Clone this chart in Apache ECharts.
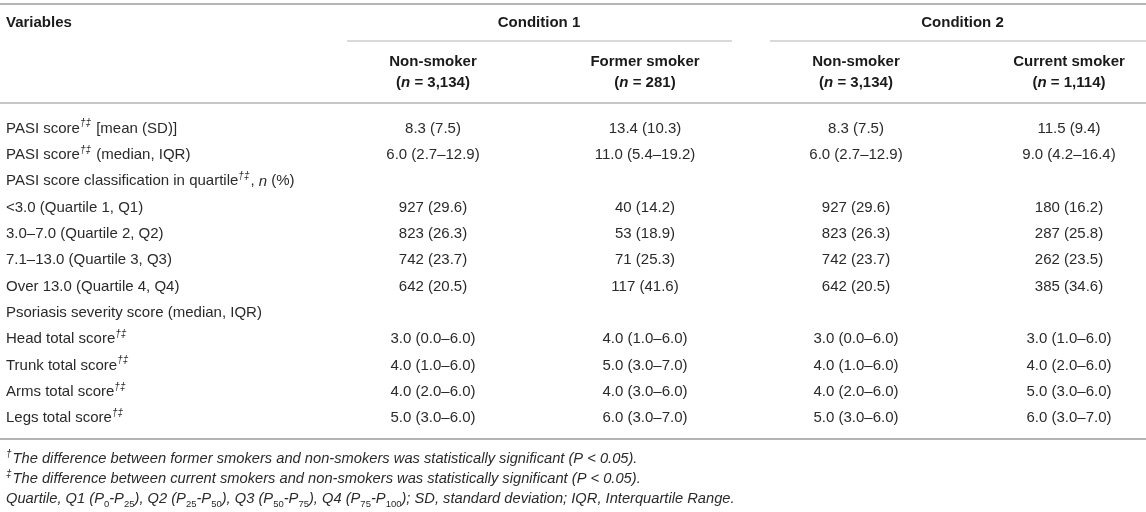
<!DOCTYPE html>
<html>
<head>
<meta charset="utf-8">
<title>PASI score by smoking status</title>
<script src="https://cdn.jsdelivr.net/npm/echarts@6/dist/echarts.min.js"></script>
<style>
    html, body { margin: 0; padding: 0; background: #fff; }
    #main { width: 1146px; height: 512px; }
</style>
</head>
<body>
<div id="main"></div>
<script>
// ---- table content ----
const rowLabels = [
    'PASI score',
    'PASI score',
    'PASI score classification in quartile',
    '<3.0 (Quartile 1, Q1)',
    '3.0–7.0 (Quartile 2, Q2)',
    '7.1–13.0 (Quartile 3, Q3)',
    'Over 13.0 (Quartile 4, Q4)',
    'Psoriasis severity score (median, IQR)',
    'Head total score',
    'Trunk total score',
    'Arms total score',
    'Legs total score'
];
const rowMarks = ['†‡', '†‡', '†‡', '', '', '', '', '', '†‡', '†‡', '†‡', '†‡'];
const rowSuffix = [' [mean (SD)]', ' (median, IQR)', ', n (%)', '', '', '', '', '', '', '', '', ''];

const groupNames = ['Condition 1', 'Condition 2'];
const columnNames = ['Non-smoker', 'Former smoker', 'Non-smoker', 'Current smoker'];
const columnN = ['3,134', '281', '3,134', '1,114'];

const cond1NonSmoker = ['8.3 (7.5)', '6.0 (2.7–12.9)', '', '927 (29.6)', '823 (26.3)', '742 (23.7)', '642 (20.5)', '',
    '3.0 (0.0–6.0)', '4.0 (1.0–6.0)', '4.0 (2.0–6.0)', '5.0 (3.0–6.0)'];
const cond1FormerSmoker = ['13.4 (10.3)', '11.0 (5.4–19.2)', '', '40 (14.2)', '53 (18.9)', '71 (25.3)', '117 (41.6)', '',
    '4.0 (1.0–6.0)', '5.0 (3.0–7.0)', '4.0 (3.0–6.0)', '6.0 (3.0–7.0)'];
const cond2NonSmoker = ['8.3 (7.5)', '6.0 (2.7–12.9)', '', '927 (29.6)', '823 (26.3)', '742 (23.7)', '642 (20.5)', '',
    '3.0 (0.0–6.0)', '4.0 (1.0–6.0)', '4.0 (2.0–6.0)', '5.0 (3.0–6.0)'];
const cond2CurrentSmoker = ['11.5 (9.4)', '9.0 (4.2–16.4)', '', '180 (16.2)', '287 (25.8)', '262 (23.5)', '385 (34.6)', '',
    '3.0 (1.0–6.0)', '4.0 (2.0–6.0)', '5.0 (3.0–6.0)', '6.0 (3.0–7.0)'];

const footMarks = ['†', '‡', ''];
const footnotes = [
    'The difference between former smokers and non-smokers was statistically significant (P < 0.05).',
    'The difference between current smokers and non-smokers was statistically significant (P < 0.05).',
    'Quartile, Q1 (P0-P25), Q2 (P25-P50), Q3 (P50-P75), Q4 (P75-P100); SD, standard deviation; IQR, Interquartile Range.'
];

// ---- layout ----
const FONT = '"Liberation Sans", Arial, Helvetica, sans-serif';
const TEXT = '#2a2a2a';
const HEAD = '#1a1a1a';
const RULE = '#b4b4b4';
const FS = 15;
const labelX = 6;
const colX = [433, 645, 856, 1069];
const groupSpan = [[347, 732], [770, 1146]];

const columns = [cond1NonSmoker, cond1FormerSmoker, cond2NonSmoker, cond2CurrentSmoker];

const rich = {
    sup: { fontSize: 10, fontStyle: 'italic', fontFamily: FONT, fill: TEXT, verticalAlign: 'top', lineHeight: 10, padding: [0, 1, 0, 0] },
    sub: { fontSize: 9.5, fontFamily: FONT, fill: TEXT, verticalAlign: 'bottom', lineHeight: 10 },
    i: { fontSize: FS, fontStyle: 'italic', fontFamily: FONT, fill: TEXT, lineHeight: 20 },
    ib: { fontSize: FS, fontStyle: 'italic', fontWeight: 'bold', fontFamily: FONT, fill: HEAD, lineHeight: 20 }
};

function esc(s) {
    return s.replace(/[{}|]/g, '');
}

function labelText(i) {
    let s = esc(rowLabels[i]);
    if (rowMarks[i]) s += '{sup|' + rowMarks[i] + '}';
    s += esc(rowSuffix[i]).replace(/\bn\b/, '{i|n}');
    return s;
}

const chart = echarts.init(document.getElementById('main'), null, { renderer: 'canvas' });

const graphic = [];
function hline(x1, x2, y, w) {
    graphic.push({
        type: 'line', silent: true,
        shape: { x1: x1, y1: y, x2: x2, y2: y },
        style: { stroke: RULE, lineWidth: w }
    });
}
function text(x, y, str, opt) {
    graphic.push({
        type: 'text', silent: true, x: x, y: y,
        style: Object.assign({
            text: str, fill: TEXT, fontFamily: FONT, fontSize: FS,
            align: 'left', verticalAlign: 'middle', rich: rich, lineHeight: 20
        }, opt || {})
    });
}

// rules
hline(0, 1146, 4, 2);
hline(0, 1146, 103, 1.5);
hline(0, 1146, 439, 2);
groupSpan.forEach(s => hline(s[0], s[1], 41, 1.2));

// header
text(labelX, 23, 'Variables', { fontWeight: 'bold', fill: HEAD });
groupNames.forEach((g, k) => {
    text((colX[2 * k] + colX[2 * k + 1]) / 2, 23, g, { fontWeight: 'bold', align: 'center', fill: HEAD });
});
columnNames.forEach((c, k) => {
    text(colX[k], 62, c, { fontWeight: 'bold', align: 'center', fill: HEAD });
    text(colX[k], 83, '({ib|n} = ' + columnN[k] + ')', { fontWeight: 'bold', align: 'center', fill: HEAD });
});

// footnotes
footnotes.forEach((f, k) => {
    let s = esc(f).replace(/P(\d+)/g, 'P{sub|$1}');
    if (footMarks[k]) s = '{sup|' + footMarks[k] + '}' + s;
    text(labelX, 459 + k * 20, s, { fontStyle: 'italic', fontSize: 14.7 });
});

chart.setOption({
    animation: false,
    grid: { left: 0, right: 0, top: 115.5, bottom: 80.5 },
    xAxis: { type: 'value', min: 0, max: 1, show: false },
    yAxis: { type: 'category', data: rowLabels.map((_, i) => i), inverse: true, show: false },
    graphic: graphic,
    series: [{
        type: 'custom',
        silent: true,
        data: rowLabels.map((_, i) => [0, i]),
        encode: { x: 0, y: 1 },
        renderItem: function (params, api) {
            const i = api.value(1);
            const y = api.coord([0, i])[1];
            const children = [{
                type: 'text', x: labelX, y: y,
                style: {
                    text: labelText(i), fill: TEXT, fontFamily: FONT, fontSize: FS,
                    align: 'left', verticalAlign: 'middle', rich: rich, lineHeight: 20
                }
            }];
            columns.forEach((col, k) => {
                if (!col[i]) return;
                children.push({
                    type: 'text', x: colX[k], y: y,
                    style: {
                        text: col[i], fill: TEXT, fontFamily: FONT, fontSize: FS,
                        align: 'center', verticalAlign: 'middle'
                    }
                });
            });
            return { type: 'group', children: children };
        }
    }]
});

window.addEventListener('resize', () => chart.resize());
</script>
</body>
</html>
